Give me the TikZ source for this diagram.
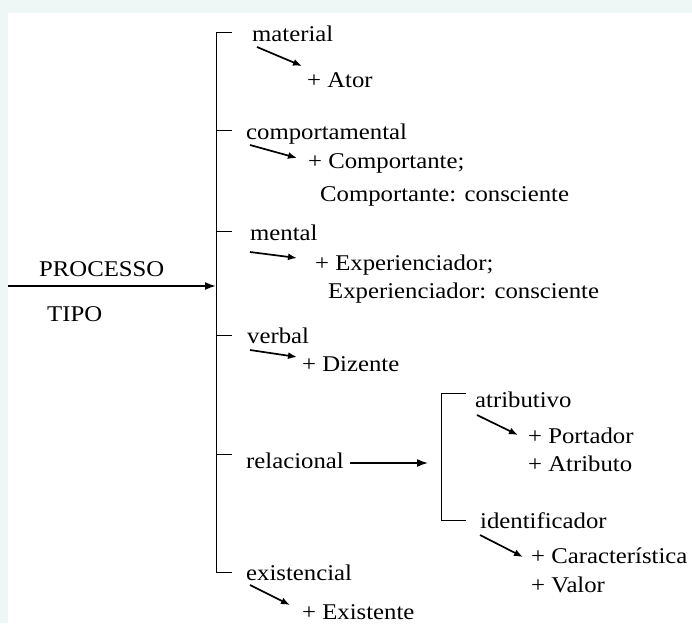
\documentclass[tikz,border=0pt]{standalone}
\usepackage{fontspec}
\setmainfont{Liberation Serif}[FakeStretch=1.1]
\usetikzlibrary{arrows.meta}
\definecolor{bgband}{HTML}{EFF6F6}
\begin{document}
\begin{tikzpicture}[x=1pt,y=-1pt,
  txt/.style={anchor=base west,inner sep=0pt,font=\fontsize{22.5}{25}\selectfont},
  brk/.style={line width=0.9pt,black},
  subarrow/.style={line width=1.7pt,-{Latex[length=9pt,width=7pt]}},
  mainarrow/.style={line width=1.8pt,-{Latex[length=11pt,width=8pt]}}]
\useasboundingbox (0,0) rectangle (692,623);
\fill[bgband] (0,0) rectangle (692,623);
\fill[white] (8,13) rectangle (692,623);
% left labels
\node[txt] (processo) at (39,276) {PROCESSO};
\node[txt] (tipo) at (47,321) {TIPO};
% bracket
\coordinate (bTop) at (216,32);
\coordinate (bBot) at (216,572);
\coordinate (bMid) at (216,286);
\coordinate (start) at (8,286);
\draw[brk] (232,32) -- (bTop) -- (bBot) -- (232,572);
\foreach \yy in {130,231,335,454} \draw[brk] (216,\yy) -- (232,\yy);
\draw[mainarrow] (start) -- (bMid);
% categories
\node[txt] (material) at (252,42) {material};
\node[txt] (ator) at (307,88) {+ Ator};
\node[txt] (comport) at (246,139) {comportamental};
\node[txt] (comportante) at (308,168) {+ Comportante;};
\node[txt] (comportc) at (320,201) {Comportante: consciente};
\node[txt] (mental) at (250,240) {mental};
\node[txt] (exper) at (315,270) {+ Experienciador;};
\node[txt] (experc) at (328,298) {Experienciador: consciente};
\node[txt] (verbal) at (247,343) {verbal};
\node[txt] (dizente) at (302,371) {+ Dizente};
\node[txt] (relacional) at (246,468) {relacional};
\node[txt] (existencial) at (246,580) {existencial};
\node[txt] (existente) at (302,619) {+ Existente};
% sub bracket
\coordinate (rA) at (350,463);
\coordinate (rB) at (428,463);
\draw[mainarrow,line width=1.6pt] (rA) -- (rB);
\draw[brk] (466,393) -- (441,393) -- (441,520) -- (466,520);
\node[txt] (atrib) at (475,407) {atributivo};
\node[txt] (portador) at (528,443) {+ Portador};
\node[txt] (atributo) at (528,471) {+ Atributo};
\node[txt] (ident) at (480,528) {identificador};
\node[txt] (caract) at (531,563) {+ Característica};
\node[txt] (valor) at (531,592) {+ Valor};
% small arrows
\coordinate (m1) at (257,47);  \coordinate (m2) at (302,66);
\coordinate (c1) at (250,145); \coordinate (c2) at (297,158);
\coordinate (e1) at (250,252); \coordinate (e2) at (297,258);
\coordinate (v1) at (250,350); \coordinate (v2) at (297,357);
\coordinate (a1) at (477,415); \coordinate (a2) at (518,435);
\coordinate (i1) at (480,535); \coordinate (i2) at (523,557);
\coordinate (x1) at (250,585); \coordinate (x2) at (290,605);
\foreach \p in {m,c,e,v,a,i,x} \draw[subarrow] (\p1) -- (\p2);
\end{tikzpicture}
\end{document}
